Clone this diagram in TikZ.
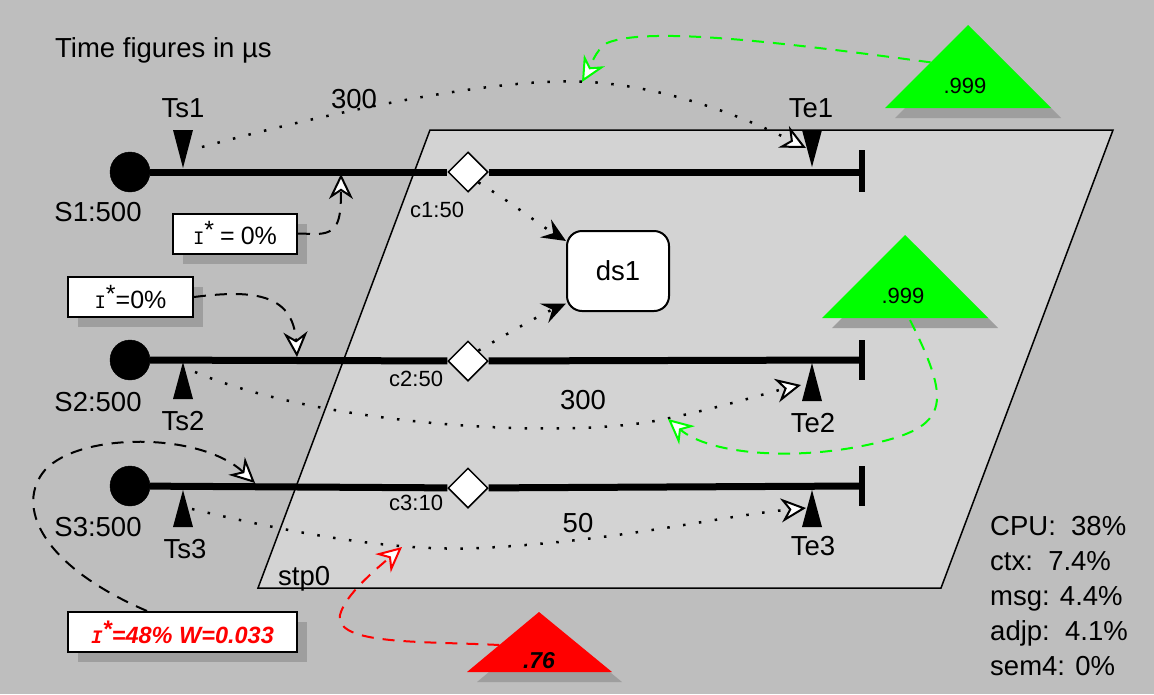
\documentclass[tikz,border=0pt]{standalone}
\usepackage{fontspec}
\setmainfont{Liberation Sans}
\newfontfamily\monoI{Liberation Mono}
\usetikzlibrary{arrows.meta,shapes.geometric,calc,shadows}
\definecolor{bggray}{HTML}{BEBEBE}
\definecolor{panegray}{HTML}{D3D3D3}
\definecolor{shadowgray}{HTML}{9E9E9E}
\definecolor{okgreen}{HTML}{00FF00}
\definecolor{warnred}{HTML}{FF0000}
% interference symbol: serif I with a raised star
\newcommand\istarmark{{\monoI\fontsize{19}{22}\selectfont I}\raisebox{6pt}{\fontsize{25}{26}\selectfont *}}
\newcommand\istarmarkbi{{\monoI\bfseries\itshape\fontsize{19}{22}\selectfont I}\raisebox{6pt}{\fontsize{24}{26}\selectfont *}}
\pgfdeclarelayer{back}
\pgfdeclarelayer{flows}
\pgfsetlayers{back,flows,main}
\begin{document}
\begin{tikzpicture}[x=1pt,y=-1pt,
  txt/.style={font=\fontsize{27.5}{32}\selectfont, inner sep=0pt},
  sml/.style={font=\fontsize{22}{26}\selectfont, inner sep=0pt},
  flow/.style={line width=7pt},
  endbar/.style={line width=6pt},
  source/.style={circle, fill=black, draw=black, minimum size=40pt, inner sep=0pt},
  choice/.style={diamond, draw=black, fill=white, line width=1.5pt, minimum size=40pt, inner sep=0pt},
  store/.style={rectangle, rounded corners=15pt, draw=black, fill=white, line width=2pt,
    minimum width=102pt, minimum height=80pt, font=\fontsize{27.5}{32}\selectfont},
  infobox/.style={rectangle, draw=black, fill=white, line width=2pt, inner sep=0pt,
    minimum height=40pt, font=\fontsize{25}{30}\selectfont,
    drop shadow={shadow xshift=10pt, shadow yshift=-10pt, fill=shadowgray, opacity=1}},
  timing/.style={line width=2.5pt, dash pattern=on 2.5pt off 13.5pt},
  cue/.style={line width=2pt, dash pattern=on 12pt off 9pt},
  openhead/.style={-{Stealth[length=25pt,width=24pt,inset=8pt,fill=white,line width=2pt]}},
  solidhead/.style={-{Stealth[length=24pt,width=21pt,inset=9pt]}}
]
\useasboundingbox (0,0) rectangle (1154,694);

% background and the stp0 plane
\begin{pgfonlayer}{back}
  \fill[bggray] (0,0) rectangle (1154,694);
  \draw[fill=panegray, line width=1.5pt] (430,130) -- (1113,130) -- (941,588) -- (258,588) -- cycle;
\end{pgfonlayer}
\node[txt, anchor=base west] (stp) at (278,585) {stp0};

% heading
\node[txt, anchor=base west] (head) at (55,57) {Time figures in µs};

% sources, choice points and ends
\node[source] (S1) at (130,172) {};
\node[source] (S2) at (130,360) {};
\node[source] (S3) at (130,486) {};
\node[choice] (c1) at (468,172) {};
\node[choice] (c2) at (468,361) {};
\node[choice] (c3) at (468,488) {};
\coordinate (e1) at (862,172);
\coordinate (e2) at (862,360);
\coordinate (e3) at (862,486);

\begin{pgfonlayer}{flows}
  \draw[flow] (S1) -- (c1) -- (e1);
  \draw[flow] (S2) -- (c2) -- (e2);
  \draw[flow] (S3) -- (c3) -- (e3);
  \draw[endbar] ($(e1)+(0,-22)$) -- ($(e1)+(0,20)$);
  \draw[endbar] ($(e2)+(0,-20)$) -- ($(e2)+(0,20)$);
  \draw[endbar] ($(e3)+(0,-20)$) -- ($(e3)+(0,20)$);
\end{pgfonlayer}

\node[txt, anchor=base] (S1l) at (98,221) {S1:500};
\node[txt, anchor=base] (S2l) at (98,411) {S2:500};
\node[txt, anchor=base] (S3l) at (98,536) {S3:500};
\node[sml, anchor=base west] (c1l) at (410,217) {c1:50};
\node[sml, anchor=base west] (c2l) at (389,386) {c2:50};
\node[sml, anchor=base west] (c3l) at (389,510) {c3:10};

% timing markers
\fill (173,130) -- (193,130) -- (183,168) -- cycle;
\fill (802,130) -- (822,130) -- (812,167) -- cycle;
\fill (173,399) -- (193,399) -- (183,362) -- cycle;
\fill (802,401) -- (822,401) -- (812,363) -- cycle;
\fill (173,527) -- (193,527) -- (183,490) -- cycle;
\fill (802,527) -- (822,527) -- (812,490) -- cycle;
\node[txt, anchor=base] (Ts1) at (183,117) {Ts1};
\node[txt, anchor=base] (Te1) at (811,117) {Te1};
\node[txt, anchor=base] (Ts2) at (183,430) {Ts2};
\node[txt, anchor=base] (Te2) at (813,432) {Te2};
\node[txt, anchor=base] (Ts3) at (185,558) {Ts3};
\node[txt, anchor=base] (Te3) at (813,555) {Te3};

% data store
\node[store] (ds1) at (618,271) {ds1};
\draw[timing, solidhead] (c1.south east) .. controls (515,205) and (540,225) .. (ds1.150);
\draw[timing, solidhead] (c2.north east) .. controls (505,335) and (540,315) .. (ds1.212);

% end-to-end timing requirements
\coordinate (ts1a) at (202,147);
\coordinate (te1a) at (806,148);
\coordinate (ts2a) at (195,372);
\coordinate (te2a) at (801,385);
\coordinate (ts3a) at (192,509);
\coordinate (te3a) at (806,508);
\draw[timing, openhead] (ts1a) .. controls (330,112) and (500,76) .. (590,82)
  .. controls (680,88) and (760,125) .. (te1a);
\draw[timing, openhead] (ts2a) .. controls (320,425) and (560,440) .. (660,420)
  .. controls (720,408) and (770,392) .. (te2a);
\draw[timing, openhead] (ts3a) .. controls (300,535) and (400,552) .. (480,548)
  .. controls (620,541) and (720,516) .. (te3a);
\node[txt, anchor=base] (t1) at (354,108) {300};
\node[txt, anchor=base] (t2) at (583,409) {300};
\node[txt, anchor=base] (t3) at (578,532) {50};

% probabilities of meeting the requirements
\fill[shadowgray] (978,35) -- (1061,118) -- (895,118) -- cycle;
\fill[okgreen] (968,25) coordinate (g1t) -- (1051,108) coordinate (g1r) -- (885,108) coordinate (g1l) -- cycle;
\node[sml, anchor=base] (p1) at (965,93) {.999};
\fill[shadowgray] (915,245) -- (998,328) -- (832,328) -- cycle;
\fill[okgreen] (905,235) coordinate (g2t) -- (988,318) coordinate (g2r) -- (822,318) coordinate (g2l) -- cycle;
\node[sml, anchor=base] (p2) at (903,303) {.999};
\fill[shadowgray] (549,622) -- (622,682) -- (477,682) -- cycle;
\fill[warnred] (539,612) coordinate (r1t) -- (612,672) coordinate (r1r) -- (467,672) coordinate (r1l) -- cycle;
\node[sml, anchor=base, font=\fontsize{23}{26}\selectfont\bfseries\itshape] (p3) at (539,668) {.76};

\coordinate (g1a) at ($(g1l)!0.55!(g1t)$);
\coordinate (g1b) at (582,82);
\draw[okgreen, cue, openhead] (g1a) .. controls (800,45) and (650,25) .. (607,43)
  .. controls (595,50) and (590,68) .. (g1b);
\coordinate (g2a) at (910,320);
\coordinate (g2b) at (668,419);
\draw[okgreen, cue, openhead] (g2a) .. controls (950,400) and (950,425) .. (880,442)
  .. controls (800,462) and (710,455) .. (g2b);
\coordinate (r1a) at ($(r1l)!0.45!(r1t)$);
\coordinate (r1b) at (402,547);
\draw[warnred, cue, openhead] (r1a) .. controls (420,641) and (335,645) .. (340,615)
  .. controls (345,595) and (375,570) .. (r1b);

% interference boxes
\node[infobox, minimum width=124pt] (box1) at (235,233.5) {\istarmark\hspace{6pt}=\hspace{6pt}0\%};
\node[infobox, minimum width=125pt] (box2) at (130.5,297) {\istarmark=0\%};
\node[infobox, minimum width=229pt, text=warnred, font=\fontsize{23.5}{30}\selectfont\bfseries\itshape] (box3) at (182.5,632) {\istarmarkbi=48\% W=0.033};

\coordinate (s1arr) at (341,174);
\coordinate (s2arr) at (297,357);
\coordinate (s3arr) at (255,483);
\draw[cue, openhead] (box1.east) -- (315,234) .. controls (338,234) and (341,222) .. (s1arr);
\draw[cue, openhead] (box2.east) .. controls (250,290) and (293,292) .. (s2arr);
\draw[cue, openhead] ($(box3.north west)+(80,0)$) .. controls (40,565) and (15,505) .. (45,470)
  .. controls (80,432) and (200,432) .. (s3arr);

% load figures
\node[txt, anchor=base west] (cpu) at (990,535) {CPU:\ \ 38\%};
\node[txt, anchor=base west] (ctx) at (990,570) {ctx:\ \ 7.4\%};
\node[txt, anchor=base west] (msg) at (990,605) {msg: 4.4\%};
\node[txt, anchor=base west] (adjp) at (990,640) {adjp:\ \ 4.1\%};
\node[txt, anchor=base west] (sem) at (990,675) {sem4: 0\%};
\end{tikzpicture}
\end{document}
